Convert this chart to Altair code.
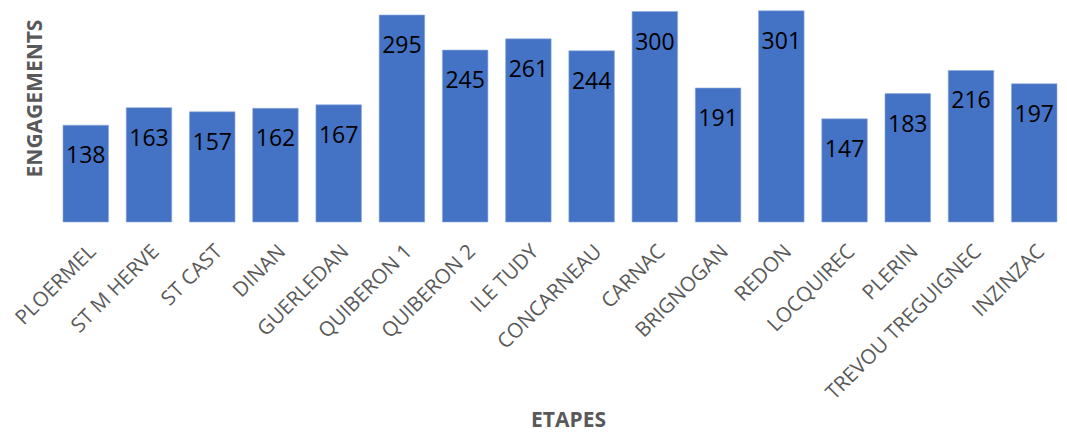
import altair as alt
import pandas as pd

etapes = ["PLOERMEL", "ST M HERVE", "ST CAST", "DINAN", "GUERLEDAN", "QUIBERON 1",
          "QUIBERON 2", "ILE TUDY", "CONCARNEAU", "CARNAC", "BRIGNOGAN", "REDON",
          "LOCQUIREC", "PLERIN", "TREVOU TREGUIGNEC", "INZINZAC"]
engagements = [138, 163, 157, 162, 167, 295, 245, 261, 244, 300, 191, 301, 147, 183, 216, 197]

df = pd.DataFrame({"etape": etapes, "engagements": engagements})

FONT = "Open Sans"
GREY = "#595959"

base = alt.Chart(df).encode(
    x=alt.X("etape:N", sort=etapes,
            scale=alt.Scale(paddingInner=0.28, paddingOuter=0),
            axis=alt.Axis(title="ETAPES", labelAngle=-45, labelAlign="right",
                          labelBaseline="top", labelPadding=19, ticks=False,
                          domain=False, labelFont=FONT, labelFontSize=20.5,
                          labelColor=GREY, labelLimit=400, titleFont=FONT,
                          titleFontSize=21, titleFontWeight="bold", titleColor=GREY,
                          titleBaseline="alphabetic", titleY=204, titleX=505,
                          titleAlign="center")),
    y=alt.Y("engagements:Q", scale=alt.Scale(domain=[0, 305], nice=False),
            axis=alt.Axis(title="ENGAGEMENTS", labels=False, ticks=False, domain=False,
                          grid=False, titleFont=FONT, titleFontSize=21,
                          titleFontWeight="bold", titleColor=GREY,
                          titleX=-28, titleY=90, titleAngle=-90,
                          titleAlign="center", titleBaseline="middle")),
)

bars = base.mark_bar(color="#4472C4", stroke="#8eaadb", strokeWidth=0.6)
labels = base.mark_text(baseline="alphabetic", dy=38, font=FONT, fontSize=23,
                        color="#000000").encode(text="engagements:Q")

chart = (bars + labels).properties(
    width=994, height=214,
    autosize=alt.AutoSizeParams(type="none"),
    padding={"left": 55, "top": 0, "right": 2, "bottom": 209},
    background="white",
).configure_view(stroke=None)

chart.save("out.html", embed_options={"renderer": "svg", "actions": False})
